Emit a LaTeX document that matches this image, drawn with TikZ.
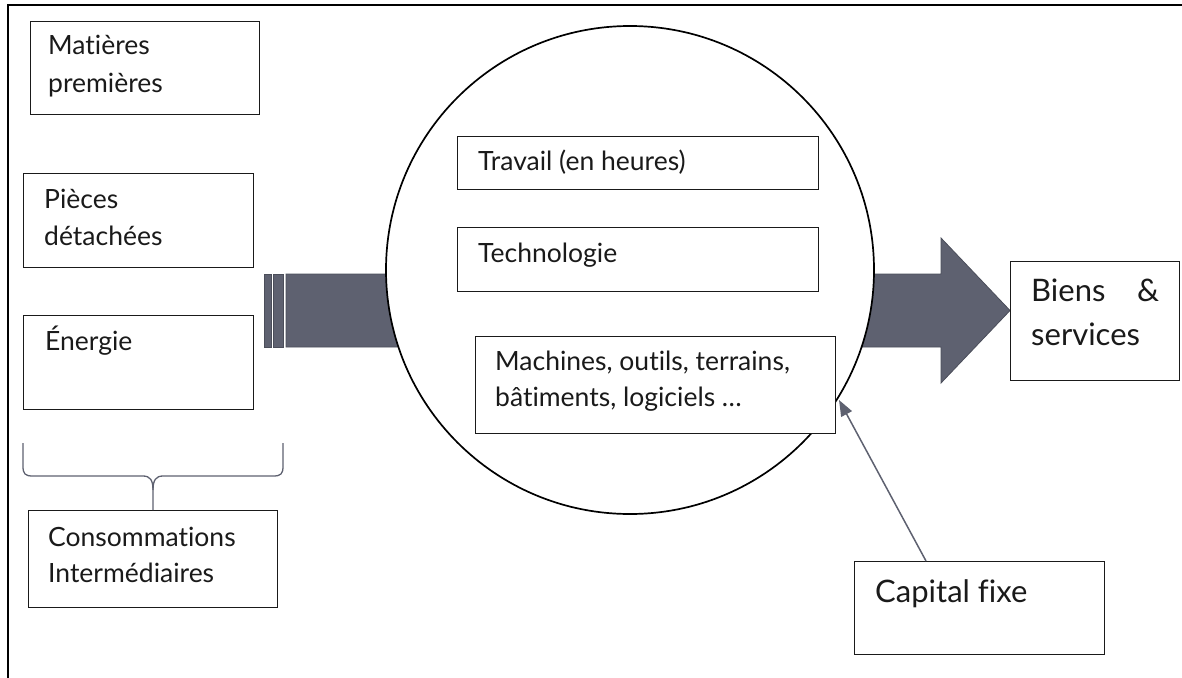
\documentclass[tikz,border=0pt]{standalone}
\usepackage{fontspec}
\setmainfont{Lato}[Ligatures=NoCommon]
\usetikzlibrary{arrows.meta}
\definecolor{slate}{HTML}{5E6170}
\definecolor{slatedark}{HTML}{4B4E5A}
\definecolor{ink}{HTML}{1A1A1A}
\tikzset{
  box/.style={draw=ink, line width=1pt, anchor=north west, inner sep=0pt, fill=white},
  lbl/.style={anchor=base west, inner sep=0pt, text=ink, font=\fontsize{26.5}{37}\selectfont, align=left},
  biglbl/.style={anchor=base west, inner sep=0pt, text=ink, font=\fontsize{31}{44}\selectfont, align=left},
  stripe/.style={fill=slate, draw=slatedark, line width=0.8pt},
}
\begin{document}
\begin{tikzpicture}[x=1pt,y=-1pt]
\useasboundingbox (0,0) rectangle (1182,677);
% outer frame (extends beyond the picture)
\draw[line width=2.6pt, black] (8,5) rectangle (1210,700);

% big arrow
\filldraw[stripe] (264,274) rectangle (271,347);
\filldraw[stripe] (273,274) rectangle (283,347);
\filldraw[stripe] (286,274) -- (941,274) -- (941,238) -- (1010,310.5) -- (941,383) -- (941,347) -- (286,347) -- cycle;

% circle
\node[circle, draw=black, line width=1.7pt, fill=white, minimum size=488pt, inner sep=0pt] (circ) at (630,270) {};

% boxes on the left
\node[box, minimum width=229pt, minimum height=93pt] (mp) at (30,21) {};
\node[lbl] (mptext) at (48,55) {Matières};
\node[lbl] (mptext2) at (48,92) {premières};

\node[box, minimum width=230pt, minimum height=94pt] (pd) at (23,173) {};
\node[lbl] (pdtext) at (44,208) {Pièces};
\node[lbl] (pdtext2) at (44,245) {détachées};

\node[box, minimum width=230pt, minimum height=94pt] (en) at (23,315) {};
\node[lbl] (entext) at (45,350) {Énergie};

\node[box, minimum width=249pt, minimum height=97pt] (ci) at (28,510) {};
\node[lbl] (citext) at (48,546) {Consommations};
\node[lbl] (citext2) at (48,582) {Intermédiaires};

% brace
\draw[slate, line width=1.3pt]
  (en.south west |- 0,443) -- (23,466) .. controls (23,474) and (25,476) .. (33,476)
  -- (143,476) .. controls (150,476) and (153,480) .. (153,490) -- (ci.north -| 153,0);
\draw[slate, line width=1.3pt]
  (283,443) -- (283,466) .. controls (283,474) and (281,476) .. (273,476)
  -- (163,476) .. controls (156,476) and (153,480) .. (153,490);

% boxes inside the circle
\node[box, minimum width=361pt, minimum height=53pt] (tr) at (457,136) {};
\node[lbl] (trtext) at (478,170) {Travail (en heures)};

\node[box, minimum width=361pt, minimum height=64pt] (te) at (457,227) {};
\node[lbl] (tetext) at (478,262) {Technologie};

\node[box, minimum width=360pt, minimum height=97pt] (ma) at (475,336) {};
\node[lbl] (matext) at (495,370) {Machines, outils, terrains,};
\node[lbl] (matext2) at (495,406) {bâtiments, logiciels …};

% right boxes
\node[box, minimum width=169pt, minimum height=119pt] (bs) at (1010,261) {};
\node[biglbl, text width=128pt] (bstext) at (1031,301) {Biens\hfill\&\\services};

\node[box, minimum width=250pt, minimum height=93pt] (cf) at (854,561) {};
\node[biglbl] (cftext) at (875,602) {Capital fixe};

% capital arrow
\coordinate (cfsrc) at (926,561);
\coordinate (matip) at (839,400);
\draw[slate, line width=1.5pt, -{Triangle[length=16pt, width=12pt]}] (cfsrc) -- (matip);
\end{tikzpicture}
\end{document}
